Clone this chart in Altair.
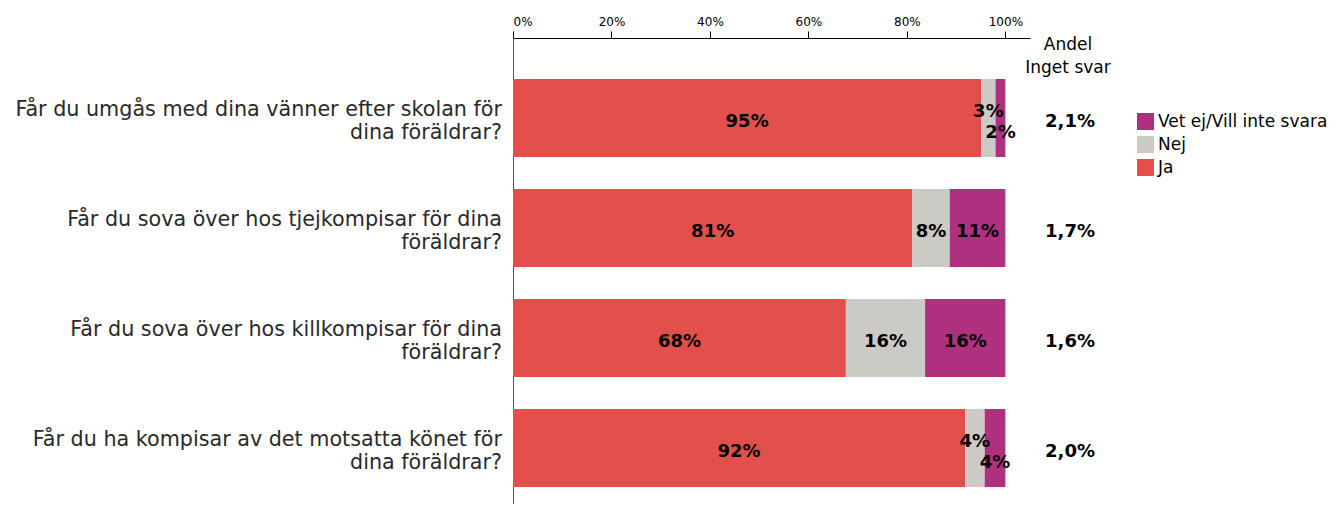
import altair as alt
import pandas as pd

questions = [
    "Får du umgås med dina vänner efter skolan för\ndina föräldrar?",
    "Får du sova över hos tjejkompisar för dina\nföräldrar?",
    "Får du sova över hos killkompisar för dina\nföräldrar?",
    "Får du ha kompisar av det motsatta könet för\ndina föräldrar?",
]
categories = ["Ja", "Nej", "Vet ej/Vill inte svara"]
ja = [95.1, 81.1, 67.6, 91.8]
nej = [2.9, 7.6, 16.1, 4.0]
vet = [2.0, 11.3, 16.3, 4.2]
inget_svar = [2.1, 1.7, 1.6, 2.0]
header = "Andel\nInget svar"
tick_values = [0, 20, 40, 60, 80, 100]

legend_order = ["Vet ej/Vill inte svara", "Nej", "Ja"]
legend_colors = ["#B03080", "#CBCAC5", "#E2504C"]

rows = []
for i, q in enumerate(questions):
    for k, (cat, vals) in enumerate(zip(categories, [ja, nej, vet])):
        rows.append({"q": q, "cat": cat, "value": vals[i], "ord": k})
df = pd.DataFrame(rows)
idf = pd.DataFrame({"q": questions, "inget": inget_svar})
qdf = pd.DataFrame({"q": questions})
hdf = pd.DataFrame({"t": [header]})

yenc = alt.Y(
    "q:N",
    sort=questions,
    scale=alt.Scale(paddingInner=0.2909, paddingOuter=0.2636, align=0.707),
    axis=alt.Axis(labels=False, ticks=False, title=None, domain=True,
                  domainColor="#555555", domainWidth=1, grid=False),
)

base = alt.Chart(df).transform_stack(
    stack="value", as_=["v0", "v1"], groupby=["q"],
    sort=[alt.SortField("ord", order="ascending")],
).transform_calculate(
    mid="(datum.v0 + datum.v1) / 2",
    lab="format(datum.value / 100, '.0%')",
)

bars = base.mark_bar().encode(
    x=alt.X(
        "v0:Q",
        scale=alt.Scale(domain=[0, 105], nice=False, zero=True),
        axis=alt.Axis(orient="top", values=tick_values, labelExpr="datum.value + '%'",
                      title=None, grid=False, domainColor="black", tickColor="black",
                      tickSize=7, labelFont="DejaVu Sans", labelFontSize=12,
                      labelColor="black", labelPadding=3),
    ),
    x2="v1:Q",
    y=yenc,
    color=alt.Color(
        "cat:N",
        scale=alt.Scale(domain=legend_order, range=legend_colors),
        legend=alt.Legend(title=None, orient="none", legendX=624, legendY=75,
                          symbolType="square", symbolSize=289, symbolStrokeWidth=0,
                          labelFont="DejaVu Sans", labelFontSize=17, labelColor="black",
                          rowPadding=5, labelOffset=4, labelLimit=400),
    ),
)

lab_style = dict(font="DejaVu Sans", fontWeight="bold", fontSize=18, color="black")
normal = base.transform_filter("datum.value >= 5 || datum.cat == 'Ja'").mark_text(
    dy=4, **lab_style).encode(x="mid:Q", y=alt.Y("q:N", sort=questions), text="lab:N")
up = base.transform_filter("datum.value < 5 && datum.cat == 'Nej'").mark_text(
    dy=-6, **lab_style).encode(x="mid:Q", y=alt.Y("q:N", sort=questions), text="lab:N")
down = base.transform_filter("datum.value < 5 && datum.cat == 'Vet ej/Vill inte svara'").mark_text(
    dy=15, **lab_style).encode(x="mid:Q", y=alt.Y("q:N", sort=questions), text="lab:N")

qtext = alt.Chart(qdf).mark_text(
    align="right", baseline="middle", font="DejaVu Sans", fontSize=20.7, color="#2a2a2a",
    lineBreak="\n", lineHeight=23, dy=-8,
).encode(x=alt.value(-11), y=alt.Y("q:N", sort=questions), text="q:N")

itext = alt.Chart(idf).transform_calculate(
    lab="replace(format(datum.inget, '.1f'), '.', ',') + '%'"
).mark_text(dy=4, **lab_style).encode(
    x=alt.value(557), y=alt.Y("q:N", sort=questions), text="lab:N")

htext = alt.Chart(hdf).mark_text(
    font="DejaVu Sans", fontSize=17, color="black", lineBreak="\n", lineHeight=23,
    baseline="alphabetic", align="center",
).encode(x=alt.value(555), y=alt.value(12), text="t:N")

chart = alt.layer(bars, normal, up, down, qtext, itext, htext).properties(
    width=517, height=466,
    autosize=alt.AutoSizeParams(type="none"),
    padding={"left": 505, "top": 30, "right": 300, "bottom": 0},
    background="white",
).configure_view(stroke=None)

chart.save("out.html", embed_options={"renderer": "svg", "actions": False})
